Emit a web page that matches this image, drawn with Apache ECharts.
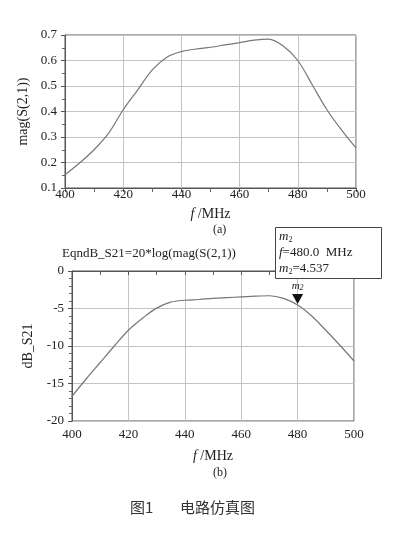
<!DOCTYPE html>
<html>
<head>
<meta charset="utf-8">
<script src="https://cdn.jsdelivr.net/npm/echarts@6/dist/echarts.min.js"></script>
<style>
  html, body { margin: 0; padding: 0; background: #fff; }
  #main { width: 399px; height: 557px; }
</style>
</head>
<body>
<div id="main"></div>
<script>
// 频率 (MHz)
const freq = [400, 405, 410, 415, 420, 425, 430, 435, 440, 445, 450,
              455, 460, 465, 470, 475, 480, 485, 490, 495, 500];
// (a) mag(S(2,1))
const magS21 = [0.152, 0.198, 0.25, 0.315, 0.407, 0.485, 0.563, 0.613, 0.635, 0.645, 0.652,
                0.661, 0.67, 0.68, 0.684, 0.657, 0.60, 0.504, 0.407, 0.328, 0.257];
// (b) dB_S21
const dbS21 = [-16.7, -14.4, -12.2, -10.0, -7.9, -6.3, -4.95, -4.15, -3.9, -3.8, -3.65,
               -3.55, -3.45, -3.35, -3.3, -3.65, -4.54, -6.0, -7.9, -9.9, -12.0];
// marker m2
const markerF = 480.0;
const markerVal = -4.54;
const markerText = '4.537';

const serif = '"Liberation Serif", "DejaVu Serif", serif';
const txt = '#222';

const chart = echarts.init(document.getElementById('main'));

const xAxisBase = (gridIndex, nameGap, labelMargin) => ({
  type: 'value',
  gridIndex: gridIndex,
  min: 400, max: 500, interval: 20,
  name: '{i|f} /MHz',
  nameLocation: 'middle',
  nameGap: nameGap,
  nameTextStyle: {
    fontFamily: serif, fontSize: 14, color: txt,
    rich: { i: { fontFamily: serif, fontSize: 14, fontStyle: 'italic', color: txt } }
  },
  axisLine: { show: true, lineStyle: { color: '#555', width: 1 } },
  axisTick: { show: true, length: 4, lineStyle: { color: '#555' } },
  minorTick: { show: true, splitNumber: 2, length: 4, lineStyle: { color: '#666' } },
  axisLabel: { fontFamily: serif, fontSize: 13, color: txt, margin: labelMargin },
  splitLine: { show: true, lineStyle: { color: '#c4c4c4', width: 1 } }
});

const option = {
  animation: false,
  backgroundColor: '#fff',
  grid: [
    { left: 65, top: 35, width: 291, height: 153, show: true, borderColor: '#555', borderWidth: 1, backgroundColor: 'transparent' },
    { left: 72, top: 271, width: 282, height: 150, show: true, borderColor: '#555', borderWidth: 1, backgroundColor: 'transparent' }
  ],
  xAxis: [
    xAxisBase(0, 19, 0),
    xAxisBase(1, 28, 7)
  ],
  yAxis: [
    {
      type: 'value', gridIndex: 0,
      min: 0.1, max: 0.7, interval: 0.1,
      name: 'mag(S(2,1))', nameLocation: 'middle', nameGap: 33,
      nameTextStyle: { fontFamily: serif, fontSize: 14, color: txt },
      axisLine: { show: true, lineStyle: { color: '#555' } },
      axisTick: { show: true, length: 4, lineStyle: { color: '#555' } },
      minorTick: { show: true, splitNumber: 2, length: 3, lineStyle: { color: '#666' } },
      axisLabel: { fontFamily: serif, fontSize: 13, color: txt, margin: 8,
                   formatter: v => v.toFixed(1) },
      splitLine: { show: true, lineStyle: { color: '#c4c4c4' } }
    },
    {
      type: 'value', gridIndex: 1,
      min: -20, max: 0, interval: 5,
      name: 'dB_S21', nameLocation: 'middle', nameGap: 35,
      nameTextStyle: { fontFamily: serif, fontSize: 14, color: txt },
      axisLine: { show: true, lineStyle: { color: '#555' } },
      axisTick: { show: true, length: 4, lineStyle: { color: '#555' } },
      minorTick: { show: true, splitNumber: 5, length: 3, lineStyle: { color: '#666' } },
      axisLabel: { fontFamily: serif, fontSize: 13, color: txt, margin: 8 },
      splitLine: { show: true, lineStyle: { color: '#c4c4c4' } }
    }
  ],
  series: [
    {
      type: 'line', xAxisIndex: 0, yAxisIndex: 0,
      data: freq.map((f, i) => [f, magS21[i]]),
      showSymbol: false, smooth: 0.35,
      lineStyle: { color: '#777', width: 1.2 }
    },
    {
      type: 'line', xAxisIndex: 1, yAxisIndex: 1,
      data: freq.map((f, i) => [f, dbS21[i]]),
      showSymbol: false, smooth: 0.35,
      lineStyle: { color: '#777', width: 1.2 },
      markPoint: {
        symbol: 'triangle',
        symbolSize: [11, 10],
        symbolRotate: 180,
        symbolOffset: [0, -6],
        itemStyle: { color: '#111' },
        label: {
          show: true, position: 'top', distance: 2,
          formatter: '{m|m}{s|2}',
          rich: {
            m: { fontFamily: serif, fontStyle: 'italic', fontSize: 11, color: txt },
            s: { fontFamily: serif, fontStyle: 'italic', fontSize: 8, color: txt, verticalAlign: 'bottom', padding: [4, 0, 0, 0] }
          }
        },
        data: [{ coord: [markerF, markerVal] }]
      }
    }
  ],
  graphic: [
    { type: 'text', left: 213, top: 224, style: { text: '(a)', font: '12px ' + serif, fill: txt } },
    { type: 'text', left: 62, top: 247, style: { text: 'EqndB_S21=20*log(mag(S(2,1))', font: '13px ' + serif, fill: txt } },
    {
      type: 'rect', z: 100,
      shape: { x: 275.5, y: 227.5, width: 106, height: 51 },
      style: { fill: '#fff', stroke: '#444', lineWidth: 1 }
    },
    {
      type: 'text', z: 101, left: 279, top: 229,
      style: {
        text: '{m|m}{s|2}\n{i|f}{t|=480.0  MHz}\n{m|m}{s|2}{t|=' + markerText + '}',
        lineHeight: 16,
        rich: {
          m: { fontFamily: serif, fontStyle: 'italic', fontSize: 13, fill: txt, lineHeight: 16 },
          i: { fontFamily: serif, fontStyle: 'italic', fontSize: 13, fill: txt, lineHeight: 16 },
          s: { fontFamily: serif, fontSize: 8, fill: txt, lineHeight: 16, padding: [5, 0, 0, 0] },
          t: { fontFamily: serif, fontSize: 13, fill: txt, lineHeight: 16 }
        }
      }
    },
    { type: 'text', left: 213, top: 467, style: { text: '(b)', font: '12px ' + serif, fill: txt } },
    { type: 'text', left: 130, top: 500, style: { text: '图1', font: '15px "Noto Sans CJK SC"', fill: '#333' } },
    { type: 'text', left: 180, top: 500, style: { text: '电路仿真图', font: '15px "Noto Sans CJK SC"', fill: '#333' } }
  ]
};

chart.setOption(option);
window.addEventListener('resize', chart.resize);
</script>
</body>
</html>
